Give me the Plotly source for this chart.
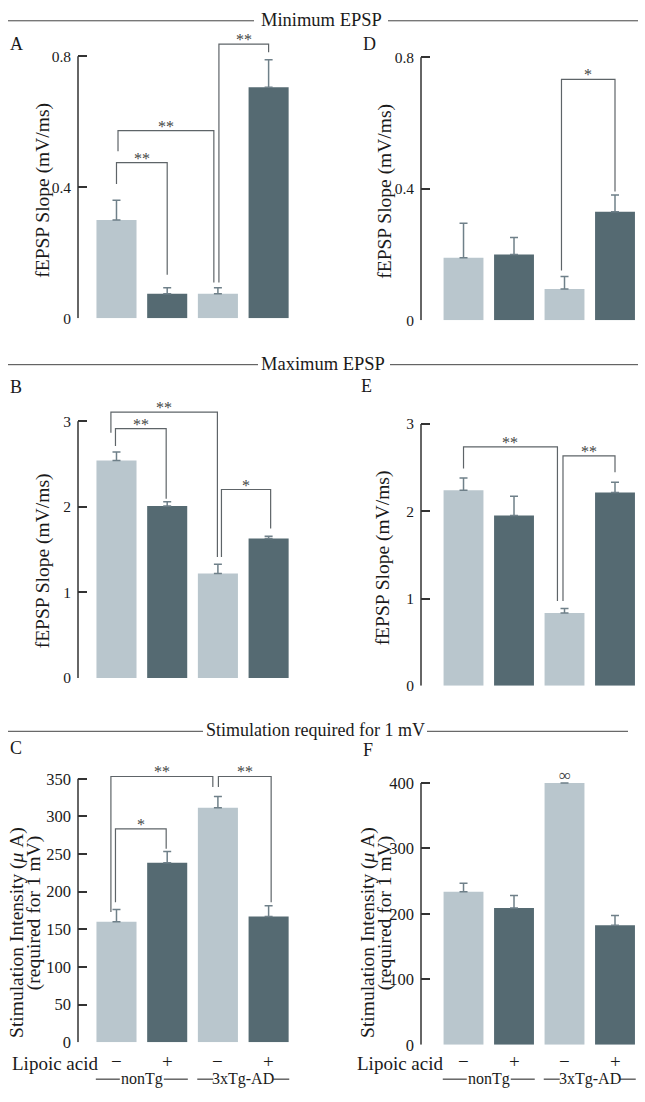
import plotly.graph_objects as go

W, H = 645, 1102
FONT = "Liberation Serif"
LIGHT = "#B9C6CD"
DARK = "#556A72"
ERR = "#6F8089"
BRK = "#5E6468"
AX = "#333333"
TXT = "#1a1a1a"

# ---------------- data ----------------
conditions = ["nonTg −", "nonTg +", "3xTg-AD −", "3xTg-AD +"]
x_pos = [0, 1, 2, 3]
bar_colors = [LIGHT, DARK, LIGHT, DARK]
lipoic_signs = ["−", "+", "−", "+"]
group_names = ["nonTg", "3xTg-AD"]

min_A_vals = [0.30, 0.075, 0.075, 0.705]
min_A_err = [0.06, 0.018, 0.018, 0.084]
min_D_vals = [0.19, 0.20, 0.095, 0.33]
min_D_err = [0.105, 0.052, 0.038, 0.051]
max_B_vals = [2.54, 2.01, 1.22, 1.63]
max_B_err = [0.10, 0.05, 0.11, 0.027]
max_E_vals = [2.24, 1.95, 0.835, 2.215]
max_E_err = [0.14, 0.22, 0.052, 0.117]
stim_C_vals = [160, 238.5, 311.5, 167]
stim_C_err = [16.5, 15, 15, 14.5]
stim_F_vals = [234, 209, 400, 182.5]
stim_F_err = [13, 19, None, 15]

ticks_min = [0, 0.4, 0.8]
ticklabels_min = ["0", "0.4", "0.8"]
ticks_max = [0, 1, 2, 3]
ticklabels_max = ["0", "1", "2", "3"]
ticks_C = [0, 50, 100, 150, 200, 250, 300, 350]
ticks_F = [0, 100, 200, 300, 400]

# brackets: (i, j, top, left_bottom, right_bottom, label, dx_left, dx_right)
brk_A = [(0, 1, 0.475, 0.41, 0.133, "**", 0.0, 0.0),
         (0, 2, 0.573, 0.51, 0.109, "**", 0.03, -0.08),
         (2, 3, 0.837, 0.109, 0.812, "**", 0.02, 0.0)]
brk_D = [(2, 3, 0.733, 0.151, 0.392, "*", -0.06, 0.0)]
brk_B = [(0, 1, 2.913, 2.71, 2.094, "**", -0.02, -0.02),
         (0, 2, 3.106, 2.864, 1.412, "**", -0.11, -0.01),
         (2, 3, 2.202, 1.412, 1.747, "*", 0.07, 0.04)]
brk_E = [(0, 2, 2.736, 2.49, 0.973, "**", 0.0, -0.14),
         (2, 3, 2.634, 0.973, 2.445, "**", -0.03, 0.0)]
brk_C = [(0, 1, 283.5, 186, 257, "*", -0.02, -0.02),
         (0, 2, 353, 173, 339, "**", -0.11, -0.1),
         (2, 3, 353, 339, 186, "**", 0.01, 0.05)]
brk_F = []

# ---------------- layout helpers ----------------
def fx(px):
    return px / W

def fy(py):
    return 1 - py / H

panels = [
    dict(letter="A", vals=min_A_vals, err=min_A_err, tv=ticks_min, tt=ticklabels_min, brk=brk_A,
         xd=(78, 300), yd=(35, 319), ymax=0.857, xr=(-0.759, 3.619), tf=15.5),
    dict(letter="D", vals=min_D_vals, err=min_D_err, tv=ticks_min, tt=ticklabels_min, brk=brk_D,
         xd=(421, 640), yd=(40, 321), ymax=0.845, xr=(-0.842, 3.495), tf=15.5),
    dict(letter="B", vals=max_B_vals, err=max_B_err, tv=ticks_max, tt=ticklabels_max, brk=brk_B,
         xd=(78, 300), yd=(400, 683), ymax=3.268, xr=(-0.759, 3.619), tf=15.5),
    dict(letter="E", vals=max_E_vals, err=max_E_err, tv=ticks_max, tt=ticklabels_max, brk=brk_E,
         xd=(421, 640), yd=(420, 691), ymax=3.067, xr=(-0.842, 3.495), tf=15.5),
    dict(letter="C", vals=stim_C_vals, err=stim_C_err, tv=ticks_C, tt=[str(v) for v in ticks_C], brk=brk_C,
         xd=(78, 300), yd=(770, 1051.7), ymax=369.7, xr=(-0.759, 3.619), tf=16.5),
    dict(letter="F", vals=stim_F_vals, err=stim_F_err, tv=ticks_F, tt=[str(v) for v in ticks_F], brk=brk_F,
         xd=(421, 640), yd=(780, 1054.3), ymax=414.0, xr=(-0.842, 3.495), tf=16.5),
]

fig = go.Figure()
shapes = []
annotations = []
layout_axes = {}

for k, p in enumerate(panels):
    n = "" if k == 0 else str(k + 1)
    xa, ya = "x" + n, "y" + n
    err = p["err"]
    fig.add_trace(go.Bar(
        x=x_pos, y=p["vals"], width=0.79, xaxis=xa, yaxis=ya,
        marker=dict(color=bar_colors, line=dict(width=0)),
        error_y=dict(type="data", symmetric=False, array=err,
                     arrayminus=[0 if e is not None else None for e in err],
                     color=ERR, thickness=1.5, width=4),
        showlegend=False, hoverinfo="y"))
    layout_axes["xaxis" + n] = dict(
        domain=[fx(p["xd"][0]), fx(p["xd"][1])], range=list(p["xr"]), anchor=ya,
        showline=False, showgrid=False, zeroline=False, showticklabels=False, ticks="", fixedrange=True)
    layout_axes["yaxis" + n] = dict(
        domain=[fy(p["yd"][1]), fy(p["yd"][0])], range=[0, p["ymax"]], anchor=xa,
        showline=False, showgrid=False, zeroline=False,
        tickmode="array", tickvals=p["tv"], ticktext=p["tt"],
        ticks="inside", ticklen=9, tickwidth=1.5, tickcolor=AX,
        ticklabelstandoff=6,
        tickfont=dict(family=FONT, size=p["tf"], color=TXT), fixedrange=True)
    shapes.append(dict(type="line", xref=xa + " domain", yref=ya, x0=0, x1=0,
                       y0=0, y1=p["tv"][-1], line=dict(color=AX, width=1.5)))
    for (i, j, top, lb, rb, lab, dxl, dxr) in p["brk"]:
        x1 = i + dxl
        x2 = j + dxr
        shapes.append(dict(type="path", xref=xa, yref=ya,
                           path=f"M {x1},{lb} L {x1},{top} L {x2},{top} L {x2},{rb}",
                           line=dict(color=BRK, width=1.2)))
        annotations.append(dict(xref=xa, yref=ya, x=(x1 + x2) / 2, y=top, text=lab,
                                showarrow=False, yanchor="bottom", yshift=-6,
                                font=dict(family=FONT, size=16, color="#444")))

annotations.append(dict(xref="x6", yref="y6", x=2, y=stim_F_vals[2], text="∞", showarrow=False,
                        yanchor="bottom", yshift=-4, font=dict(family=FONT, size=17, color="#444")))

letters = [("A", 8, 41), ("D", 361, 41), ("B", 8, 389), ("E", 359, 388), ("C", 8, 754), ("F", 361, 756)]
for t, x, y in letters:
    annotations.append(dict(xref="paper", yref="paper", x=fx(x), y=fy(y), text=t, showarrow=False,
                            xanchor="left", yanchor="middle", font=dict(family=FONT, size=18, color=TXT)))

headers = [("Minimum EPSP", 321, 17, (8, 254), (388, 638), 18.5),
           ("Maximum EPSP", 322.5, 365, (8, 258), (390, 638), 18.5),
           ("Stimulation required for 1 mV", 315, 736, (8, 203), (427, 628), 18)]
for t, cx, cy, l1, l2, fs in headers:
    annotations.append(dict(xref="paper", yref="paper", x=fx(cx), y=fy(cy), text=t, showarrow=False,
                            xanchor="center", yanchor="middle", font=dict(family=FONT, size=fs, color=TXT)))
    for a, b in (l1, l2):
        shapes.append(dict(type="line", xref="paper", yref="paper", x0=fx(a), x1=fx(b),
                           y0=fy(cy + 1), y1=fy(cy + 1), line=dict(color="#444", width=1)))

ytitles = [("fEPSP Slope (mV/ms)", 43, 190), ("fEPSP Slope (mV/ms)", 385, 190),
           ("fEPSP Slope (mV/ms)", 43, 565), ("fEPSP Slope (mV/ms)", 383, 562)]
for t, x, y in ytitles:
    annotations.append(dict(xref="paper", yref="paper", x=fx(x), y=fy(y), text=t, showarrow=False,
                            textangle=-90, xanchor="center", yanchor="middle",
                            font=dict(family=FONT, size=19.5, color=TXT)))
for x1, x2 in ((17, 34), (368, 385)):
    annotations.append(dict(xref="paper", yref="paper", x=fx(x1), y=fy(941), text="Stimulation Intensity (<i>μ</i> A)",
                            showarrow=False, textangle=-90, xanchor="center", yanchor="middle",
                            font=dict(family=FONT, size=19.5, color=TXT)))
    annotations.append(dict(xref="paper", yref="paper", x=fx(x2), y=fy(921), text="(required for 1 mV)",
                            showarrow=False, textangle=-90, xanchor="center", yanchor="middle",
                            font=dict(family=FONT, size=19.5, color=TXT)))

for xa, lip_x, spacing in (("x5", 54.5, 50.7), ("x6", 400, 50.5)):
    annotations.append(dict(xref="paper", yref="paper", x=fx(lip_x), y=fy(1073), text="Lipoic acid",
                            showarrow=False, xanchor="center", yanchor="middle",
                            font=dict(family=FONT, size=19, color=TXT)))
    for xi, s in zip(x_pos, lipoic_signs):
        annotations.append(dict(xref=xa, yref="paper", x=xi, y=fy(1071), text=s, showarrow=False,
                                xanchor="center", yanchor="middle", font=dict(family=FONT, size=19, color=TXT)))
    for gi, g in enumerate(group_names):
        c = 0.5 + 2 * gi
        half = (21 if gi == 0 else 29) / spacing
        outer = 46 / spacing
        annotations.append(dict(xref=xa, yref="paper", x=c, y=fy(1089), text=g, showarrow=False,
                                xanchor="center", yanchor="middle", font=dict(family=FONT, size=16, color=TXT)))
        for a, b in ((c - outer, c - half - 1 / spacing), (c + half + 1 / spacing, c + outer)):
            shapes.append(dict(type="line", xref=xa, yref="paper", x0=a, x1=b, y0=fy(1089), y1=fy(1089),
                               line=dict(color=TXT, width=1)))

fig.update_layout(
    width=W, height=H, margin=dict(l=0, r=0, t=0, b=0),
    paper_bgcolor="white", plot_bgcolor="white",
    shapes=shapes, annotations=annotations, showlegend=False,
    font=dict(family=FONT, color=TXT), **layout_axes)

fig.write_html("out.html", config={"displayModeBar": False},
               post_script="document.body.style.margin='0';document.body.style.padding='0';")
